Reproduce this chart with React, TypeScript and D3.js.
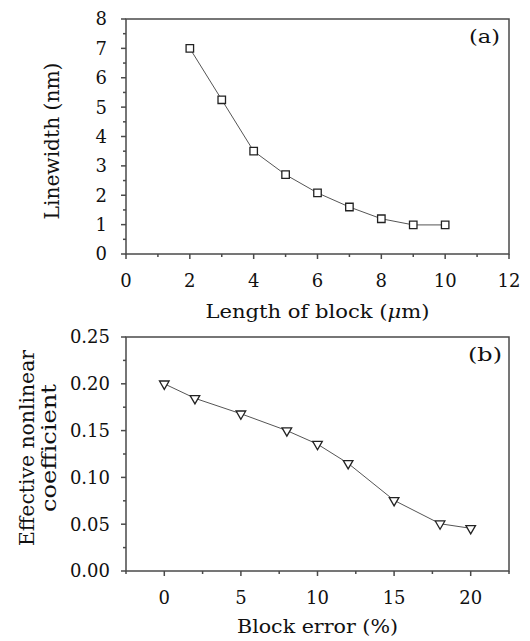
import React from "react";
import * as d3 from "d3";

const lengthX = [2, 3, 4, 5, 6, 7, 8, 9, 10];
const linewidthY = [7.0, 5.25, 3.5, 2.7, 2.08, 1.6, 1.2, 0.99, 0.99];
const aXTicks = [0, 2, 4, 6, 8, 10, 12];
const aXMinor = [1, 3, 5, 7, 9, 11];
const aYTicks = [0, 1, 2, 3, 4, 5, 6, 7, 8];
const aYMinor = [0.5, 1.5, 2.5, 3.5, 4.5, 5.5, 6.5, 7.5];

const errorX = [0, 2, 5, 8, 10, 12, 15, 18, 20];
const coeffY = [0.2, 0.1845, 0.168, 0.15, 0.1355, 0.115, 0.0755, 0.0505, 0.0456];
const bXTicks = [0, 5, 10, 15, 20];
const bXMinor = [-2.5, 2.5, 7.5, 12.5, 17.5, 22.5];
const bYTicks = [0, 0.05, 0.1, 0.15, 0.2, 0.25];
const bYMinor = [0.025, 0.075, 0.125, 0.175, 0.225];

const FONT = "'DejaVu Serif', serif";
const AX = "#4a4a4a";

type VText = { text: string; x: number; len: number };

type PanelProps = {
  left: number; right: number; top: number; bottom: number;
  xDomain: [number, number]; yDomain: [number, number];
  xs: number[]; ys: number[];
  xTicks: number[]; xMinor: number[]; yTicks: number[]; yMinor: number[];
  yFmt: (v: number) => string; yLabelX: number;
  marker: "square" | "triangle"; tag: string; tagRight: number; tagLen: number;
  xTitle: React.ReactNode; xTitleY: number; xTitleLen: number;
  yTitle: VText[]; yTitleCy: number;
};

function Panel(p: PanelProps) {
  const x = d3.scaleLinear().domain(p.xDomain).range([p.left, p.right]);
  const y = d3.scaleLinear().domain(p.yDomain).range([p.bottom, p.top]);
  const line = d3.line<number>().x((_, i) => x(p.xs[i])).y((d) => y(d));
  const sym = d3.symbol().type(p.marker === "square" ? d3.symbolSquare : d3.symbolTriangle).size(p.marker === "square" ? 56 : 40);
  const cx = (p.left + p.right) / 2;
  return (
    <g>
      <path d={line(p.ys) || ""} fill="none" stroke="#555" strokeWidth={1} />
      {p.ys.map((v, i) => (
        <path key={i} d={sym() || ""} transform={`translate(${x(p.xs[i])},${y(v)})${p.marker === "triangle" ? " rotate(180)" : ""}`}
          fill="#fff" stroke="#222" strokeWidth={1.3} />
      ))}
      <rect x={p.left} y={p.top} width={p.right - p.left} height={p.bottom - p.top} fill="none" stroke={AX} strokeWidth={1.5} />
      {p.xTicks.map((t) => (
        <g key={"xt" + t}>
          <line x1={x(t)} x2={x(t)} y1={p.bottom} y2={p.bottom + 5} stroke={AX} strokeWidth={1.5} />
          <text x={x(t)} y={p.bottom + 33} textAnchor="middle" fontFamily={FONT} fontSize={18} fill="#111">{t}</text>
        </g>
      ))}
      {p.xMinor.map((t) => (
        <line key={"xm" + t} x1={x(t)} x2={x(t)} y1={p.bottom} y2={p.bottom + 3} stroke={AX} strokeWidth={1.5} />
      ))}
      {p.yTicks.map((t) => (
        <g key={"yt" + t}>
          <line x1={p.left - 5} x2={p.left} y1={y(t)} y2={y(t)} stroke={AX} strokeWidth={1.5} />
          <text x={p.yLabelX} y={y(t)} dy="0.36em" textAnchor="end" fontFamily={FONT} fontSize={18} fill="#111">{p.yFmt(t)}</text>
        </g>
      ))}
      {p.yMinor.map((t) => (
        <line key={"ym" + t} x1={p.left - 3} x2={p.left} y1={y(t)} y2={y(t)} stroke={AX} strokeWidth={1.5} />
      ))}
      <text x={p.tagRight - p.tagLen} y={p.top + 24} textLength={p.tagLen} lengthAdjust="spacingAndGlyphs"
        fontFamily={FONT} fontSize={18} fill="#111">{p.tag}</text>
      <text x={cx - p.xTitleLen / 2} y={p.xTitleY} textLength={p.xTitleLen} lengthAdjust="spacingAndGlyphs"
        fontFamily={FONT} fontSize={18} fill="#111">{p.xTitle}</text>
      {p.yTitle.map((s, i) => (
        <text key={i} transform={`translate(${s.x},${p.yTitleCy}) rotate(-90) scale(1,1.15)`}
          x={-s.len / 2} y={0} textLength={s.len} lengthAdjust="spacingAndGlyphs"
          fontFamily={FONT} fontSize={18} fill="#111">{s.text}</text>
      ))}
    </g>
  );
}

export default function App() {
  return (
    <svg width={530} height={641} style={{ position: "absolute", left: 0, top: 0, background: "#fff" }}>
      <rect width={530} height={641} fill="#fff" />
      <Panel left={126} right={509} top={19} bottom={254}
        xDomain={[0, 12]} yDomain={[0, 8]} xs={lengthX} ys={linewidthY}
        xTicks={aXTicks} xMinor={aXMinor} yTicks={aYTicks} yMinor={aYMinor}
        yFmt={(v) => String(v)} yLabelX={107} marker="square" tag="(a)" tagRight={500} tagLen={31}
        xTitle={<>Length of block (<tspan fontStyle="italic">μ</tspan>m)</>} xTitleY={318} xTitleLen={224}
        yTitle={[{ text: "Linewidth (nm)", x: 59, len: 157 }]} yTitleCy={141} />
      <Panel left={126} right={509} top={337} bottom={571}
        xDomain={[-2.5, 22.5]} yDomain={[0, 0.25]} xs={errorX} ys={coeffY}
        xTicks={bXTicks} xMinor={bXMinor} yTicks={bYTicks} yMinor={bYMinor}
        yFmt={(v) => v.toFixed(2)} yLabelX={110} marker="triangle" tag="(b)" tagRight={502} tagLen={34}
        xTitle="Block error (%)" xTitleY={633} xTitleLen={161}
        yTitle={[{ text: "Effective nonlinear", x: 34, len: 196 }, { text: "coefficient", x: 56, len: 128 }]} yTitleCy={448} />
    </svg>
  );
}
